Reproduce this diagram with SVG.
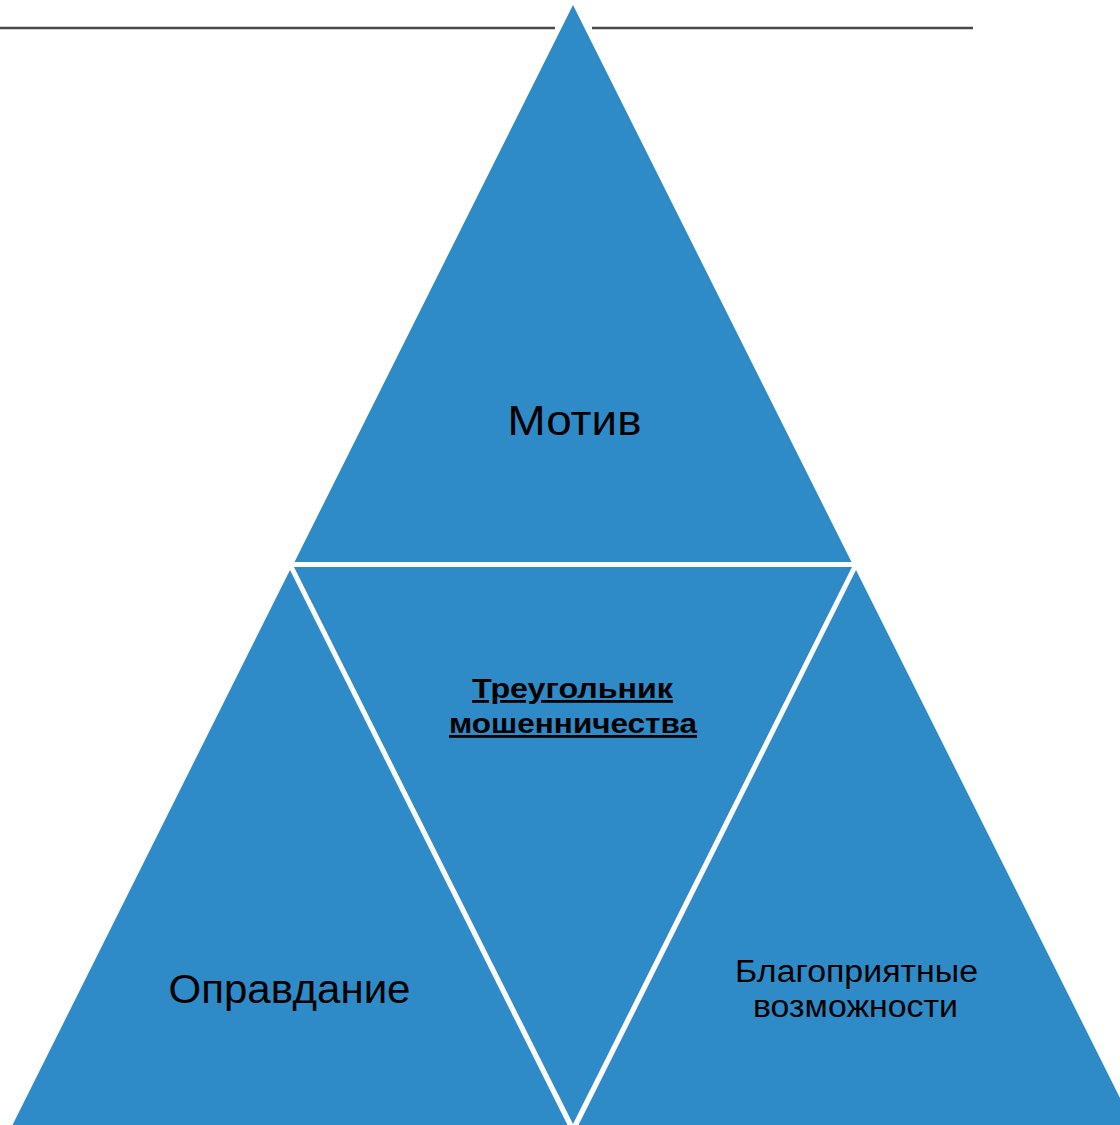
<svg xmlns="http://www.w3.org/2000/svg" width="1120" height="1125" viewBox="0 0 1120 1125">
<style>
.tri{fill:#2E8BC7;stroke:none}
.lbl{font-family:"Liberation Sans",Arial,sans-serif;fill:#000;text-anchor:middle}
.rule{stroke:#4A4A4A;stroke-width:2.5;fill:none}
</style>
<rect width="1120" height="1125" fill="#fff"/>
<g id="connectors">
<line class="rule" x1="0" y1="28" x2="555" y2="28"/>
<line class="rule" x1="592" y1="28" x2="973" y2="28"/>
</g>
<g id="motiv">
<polygon class="tri" points="573,5 851.5,562 294.5,562"/>
<text class="lbl" x="574.5" y="435" font-size="43" textLength="134" lengthAdjust="spacingAndGlyphs">Мотив</text>
</g>
<g id="center">
<polygon class="tri" points="294,567 852,567 573,1124"/>
<text class="lbl" x="572.5" y="698" font-size="28" font-weight="bold" text-decoration="underline" textLength="201" lengthAdjust="spacingAndGlyphs">Треугольник</text>
<text class="lbl" x="573" y="733" font-size="28" font-weight="bold" text-decoration="underline" textLength="248" lengthAdjust="spacingAndGlyphs">мошенничества</text>
</g>
<g id="opravdanie">
<polygon class="tri" points="290,570 567.5,1125 12.5,1125"/>
<text class="lbl" x="289.5" y="1002.5" font-size="41" textLength="242" lengthAdjust="spacingAndGlyphs">Оправдание</text>
</g>
<g id="vozmozhnosti">
<polygon class="tri" points="856,570 1133.5,1125 578.5,1125"/>
<text class="lbl" x="856.5" y="982" font-size="31" textLength="243" lengthAdjust="spacingAndGlyphs">Благоприятные</text>
<text class="lbl" x="855.5" y="1017" font-size="31" textLength="205" lengthAdjust="spacingAndGlyphs">возможности</text>
</g>
</svg>
